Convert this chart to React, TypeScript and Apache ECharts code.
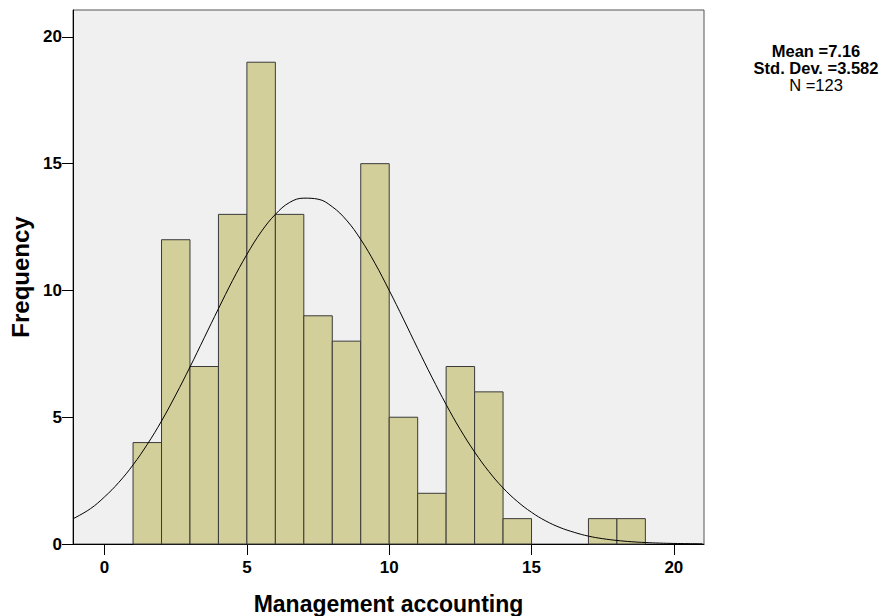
import React, { useEffect, useRef } from "react";
import * as echarts from "echarts";

const binStarts = [1, 2, 3, 4, 5, 6, 7, 8, 9, 10, 11, 12, 13, 14, 15, 16, 17, 18];
const frequencies = [4, 12, 7, 13, 19, 13, 9, 8, 15, 5, 2, 7, 6, 1, 0, 0, 1, 1];
const curveX = [-1.1, -0.5, 0, 0.5, 1, 1.5, 2, 2.5, 3, 3.5, 4, 4.5, 5, 5.5, 6, 6.5, 7, 7.5, 8, 8.5, 9, 9.5, 10, 10.5, 11, 11.5, 12, 12.5, 13, 13.5, 14, 14.5, 15, 15.5, 16, 16.5, 17, 17.5, 18, 18.5, 19, 19.5, 20, 20.5, 21];
const curveY = [1.0, 1.39, 1.86, 2.43, 3.12, 3.93, 4.85, 5.88, 6.98, 8.13, 9.28, 10.4, 11.42, 12.31, 13.0, 13.47, 13.64, 13.6, 13.3, 12.77, 12.01, 11.07, 10.0, 8.87, 7.71, 6.58, 5.5, 4.51, 3.63, 2.86, 2.21, 1.68, 1.25, 0.91, 0.65, 0.46, 0.31, 0.21, 0.14, 0.09, 0.058, 0.036, 0.022, 0.013, 0.007];
const tickValues = [0, 5, 10, 15, 20];
const yTickValues = [0, 5, 10, 15, 20];
const statsLines = ["Mean =7.16", "Std. Dev. =3.582", "N =123"];
const binWidth = 1;

export default function App() {
  const ref = useRef<HTMLDivElement>(null);
  useEffect(() => {
    if (!ref.current) return;
    const chart = echarts.init(ref.current, null, { renderer: "svg" });
    const font = "'Liberation Sans', Arial, sans-serif";
    chart.setOption({
      animation: false,
      grid: {
        left: 73,
        top: 10,
        right: 178,
        bottom: 72,
        show: true,
        backgroundColor: "#f0f0f0",
        borderColor: "#555",
        borderWidth: 1,
        containLabel: false,
        outerBoundsMode: "none",
      },
      xAxis: {
        type: "value",
        min: -1.11,
        max: 21.06,
        name: "Management accounting",
        nameLocation: "middle",
        nameGap: 48,
        nameTextStyle: { fontFamily: font, fontWeight: "bold", fontSize: 23, color: "#000" },
        axisLine: { show: true, onZero: false, lineStyle: { color: "#000", width: 1 } },
        axisTick: { show: true, length: 11, customValues: tickValues, lineStyle: { color: "#000" } },
        axisLabel: { customValues: tickValues, fontFamily: font, fontWeight: "bold", fontSize: 17, color: "#000", margin: 15 },
        splitLine: { show: false },
      },
      yAxis: {
        type: "value",
        min: 0,
        max: 21.06,
        name: "Frequency",
        nameLocation: "middle",
        nameGap: 36,
        nameTextStyle: { fontFamily: font, fontWeight: "bold", fontSize: 24, color: "#000" },
        axisLine: { show: true, onZero: false, lineStyle: { color: "#000", width: 1 } },
        axisTick: { show: true, length: 11, customValues: yTickValues, lineStyle: { color: "#000" } },
        axisLabel: { customValues: yTickValues, fontFamily: font, fontWeight: "bold", fontSize: 17, color: "#000", margin: 11 },
        splitLine: { show: false },
      },
      graphic: [
        {
          type: "group",
          children: [
            {
              type: "text",
              x: 816,
              y: 42,
              style: { text: statsLines[0], fontFamily: font, fontWeight: "bold", fontSize: 16.5, fill: "#000", align: "center" },
            },
            {
              type: "text",
              x: 816,
              y: 59,
              style: { text: statsLines[1], fontFamily: font, fontWeight: "bold", fontSize: 16.5, fill: "#000", align: "center" },
            },
            {
              type: "text",
              x: 816,
              y: 76,
              style: { text: statsLines[2], fontFamily: font, fontWeight: "normal", fontSize: 16.5, fill: "#000", align: "center" },
            },
          ],
        },
      ],
      series: [
        {
          type: "custom",
          data: binStarts.map((s, i) => [s, frequencies[i]]),
          renderItem: (params: any, api: any) => {
            const x0 = api.value(0);
            const v = api.value(1);
            if (v <= 0) return null;
            const p0 = api.coord([x0, v]);
            const p1 = api.coord([x0 + binWidth, 0]);
            return {
              type: "rect",
              shape: { x: p0[0], y: p0[1], width: p1[0] - p0[0], height: p1[1] - p0[1] },
              style: { fill: "#d3cf9a", stroke: "#3a3a3a", lineWidth: 1 },
            };
          },
          z: 2,
        },
        {
          type: "line",
          data: curveX.map((x, i) => [x, curveY[i]]),
          smooth: 0.4,
          showSymbol: false,
          lineStyle: { color: "#000", width: 1 },
          z: 3,
          clip: true,
        },
      ],
    });
    return () => chart.dispose();
  }, []);
  return <div ref={ref} style={{ width: 882, height: 616, position: "absolute", left: 0, top: 0 }} />;
}
